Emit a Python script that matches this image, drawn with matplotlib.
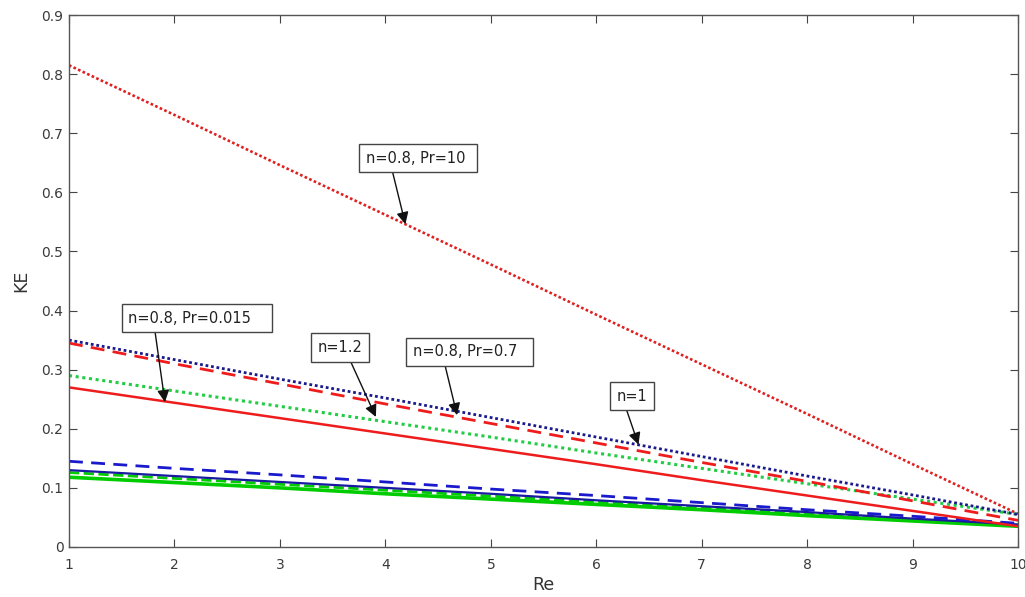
import matplotlib.pyplot as plt
import numpy as np

plt.rcParams['font.family'] = ['DejaVu Sans']

# Reynolds number
re = [1, 2, 3, 4, 5, 6, 7, 8, 9, 10]

# kinetic energy curves
ke_pr10 = [0.815, 0.731, 0.646, 0.562, 0.478, 0.393, 0.309, 0.225, 0.140, 0.056]
ke_n1 = [0.350, 0.317, 0.284, 0.252, 0.219, 0.186, 0.153, 0.120, 0.088, 0.055]
ke_pr07 = [0.345, 0.310, 0.276, 0.242, 0.209, 0.176, 0.143, 0.111, 0.078, 0.045]
ke_n12 = [0.290, 0.264, 0.238, 0.212, 0.186, 0.159, 0.133, 0.107, 0.081, 0.055]
ke_pr0015 = [0.270, 0.244, 0.218, 0.192, 0.166, 0.140, 0.113, 0.087, 0.061, 0.035]
ke_blue_dash = [0.145, 0.133, 0.122, 0.110, 0.098, 0.087, 0.075, 0.063, 0.052, 0.040]
ke_blue_solid = [0.130, 0.120, 0.110, 0.100, 0.090, 0.079, 0.069, 0.059, 0.048, 0.038]
ke_green_dash = [0.126, 0.116, 0.106, 0.096, 0.086, 0.076, 0.066, 0.056, 0.046, 0.037]
ke_green_solid = [0.118, 0.109, 0.100, 0.090, 0.081, 0.072, 0.063, 0.053, 0.044, 0.035]

fig = plt.figure(figsize=(10.25, 5.97), dpi=100)
ax = fig.add_axes([0.0673, 0.0838, 0.926, 0.891])

ax.plot(re, ke_pr10, color='#e02020', ls=(0, (1, 0.9)), lw=1.9)
ax.plot(re, ke_green_solid, color='#00cc00', ls='-', lw=2.6)
ax.plot(re, ke_green_dash, color='#00cc00', ls='--', lw=2.0)
ax.plot(re, ke_blue_solid, color='#1a1aa0', ls='-', lw=1.6)
ax.plot(re, ke_blue_dash, color='#1a1acc', ls=(0, (5, 3)), lw=2.0)
ax.plot(re, ke_pr0015, color='#ee1c1c', ls='-', lw=1.8)
ax.plot(re, ke_n12, color='#22cc44', ls=(0, (1, 1.2)), lw=2.2)
ax.plot(re, ke_pr07, color='#ee1c1c', ls=(0, (5, 3)), lw=2.0)
ax.plot(re, ke_n1, color='#1a1a8c', ls=(0, (1, 1)), lw=2.0)

ax.set_xlim(1, 10)
ax.set_ylim(0, 0.9)
ax.set_xticks(range(1, 11))
ax.set_yticks(np.arange(0, 0.91, 0.1))
ax.set_yticklabels(['0', '0.1', '0.2', '0.3', '0.4', '0.5', '0.6', '0.7', '0.8', '0.9'])
ax.tick_params(direction='in', top=True, right=True, length=6, labelsize=10,
               colors='#444444', labelcolor='#3a3a3a')
ax.tick_params(axis='x', pad=8)
ax.tick_params(axis='y', pad=4)
for sp in ax.spines.values():
    sp.set_color('#555555')
    sp.set_linewidth(1.0)

ax.set_xlabel('Re', fontsize=12.5, color='#333333', labelpad=3)
ax.set_ylabel('KE', fontsize=12.5, color='#333333', labelpad=8)

box = dict(boxstyle='square,pad=0.45', fc='white', ec='#444444', lw=1.0)


def note(text, xy, xytext, rel):
    ax.annotate(text, xy=xy, xytext=xytext, fontsize=10.5, color='#222222',
                ha='center', va='center', bbox=box,
                arrowprops=dict(arrowstyle='-|>', color='#111111', lw=1.0,
                                mutation_scale=18, relpos=rel,
                                shrinkA=0, shrinkB=0))


# trailing spaces widen the boxes like the originals
note('n=0.8, Pr=10 ', (4.19, 0.546), (4.31, 0.658), (0.24, 0.0))
note('n=0.8, Pr=0.015   ', (1.91, 0.245), (2.21, 0.387), (0.19, 0.0))
note('n=1.2', (3.91, 0.220), (3.57, 0.3375), (0.67, 0.0))
note('n=0.8, Pr=0.7  ', (4.68, 0.223), (4.80, 0.330), (0.27, 0.0))
note('n=1', (6.40, 0.173), (6.34, 0.255), (0.2, 0.3))

fig.savefig('out.png', dpi=100)
